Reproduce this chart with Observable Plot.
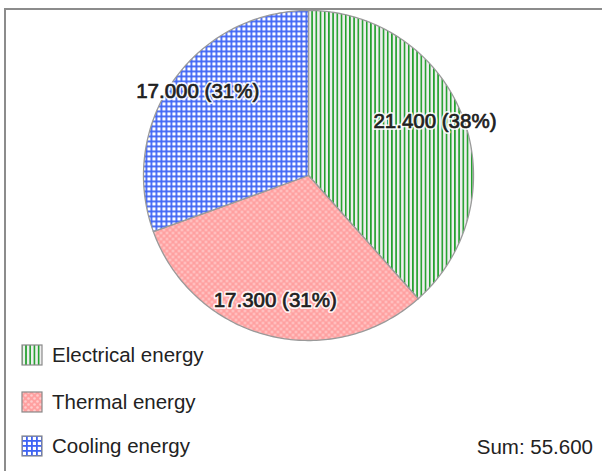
<!DOCTYPE html>
<html><head><meta charset="utf-8">
<script src="https://cdn.jsdelivr.net/npm/d3@7"></script>
<script src="https://cdn.jsdelivr.net/npm/@observablehq/plot@0.6"></script>
<style>
body{margin:0;background:#fff;font-family:"Liberation Sans",Arial,sans-serif;}
#wrap{position:relative;width:602px;height:471px;overflow:hidden;background:#fff}
#frame{position:absolute;left:4px;top:8px;width:640px;height:500px;border-top:2px solid #8c8c8c;border-left:2px solid #8c8c8c;}
#chart{position:absolute;left:0;top:0}
.leg{position:absolute;left:21px;display:flex;align-items:center;font-size:20.5px;color:#222;white-space:nowrap}
.leg svg{margin-right:9px;display:block}
#sum{position:absolute;right:9px;top:435px;font-size:20.5px;color:#222}
</style>
</head><body>
<div id="wrap"><div id="frame"></div><div id="chart"></div><div id="legend"></div><div id="sum"></div></div>
<script>
const categories = ["Electrical energy", "Thermal energy", "Cooling energy"];
const values = [21.4, 17.3, 17.0];
const labels = ["21.400 (38%)", "17.300 (31%)", "17.000 (31%)"];
const patternIds = ["pat-elec", "pat-therm", "pat-cool"];
const sumLabel = "Sum: 55.600";

const total = d3.sum(values);
let acc = 0;
const slices = values.map((v, i) => {
  const a0 = acc / total * 2 * Math.PI;
  acc += v;
  const a1 = acc / total * 2 * Math.PI;
  return {cat: categories[i], a0, a1, label: labels[i], pat: patternIds[i]};
});
function polygon(s) {
  const pts = [{x: 0, y: 0}];
  const n = Math.max(2, Math.ceil((s.a1 - s.a0) / (Math.PI / 180)));
  for (let k = 0; k <= n; k++) {
    const a = s.a0 + (s.a1 - s.a0) * k / n;
    pts.push({x: Math.sin(a), y: Math.cos(a)});
  }
  pts.push({x: 0, y: 0});
  return pts;
}
const labelPts = slices.map(s => {
  const m = (s.a0 + s.a1) / 2, k = 0.82;
  return {x: k * Math.sin(m), y: k * Math.cos(m), label: s.label};
});

const cx = 308, cy = 175, R = 165;
const font = "Liberation Sans, Arial, sans-serif";
const plot = Plot.plot({
  width: 602, height: 471,
  margin: 0,
  x: {domain: [-1, 1], range: [cx - R, cx + R], axis: null},
  y: {domain: [-1, 1], range: [cy + R, cy - R], axis: null},
  style: {background: "transparent", overflow: "visible"},
  marks: [
    ...slices.map(s => Plot.line(polygon(s), {x: "x", y: "y", fill: `url(#${s.pat})`, stroke: "#9a9a9a", strokeWidth: 1.3, strokeLinejoin: "round"})),
    Plot.text(labelPts, {x: "x", y: "y", dy: -6, text: "label", fontSize: 20.5, fontFamily: font, fill: "white", stroke: "white", strokeWidth: 4, strokeOpacity: 0.85, strokeLinejoin: "round"}),
    Plot.text(labelPts, {x: "x", y: "y", dy: -6, text: "label", fontSize: 20.5, fontFamily: font, fill: "#202020", stroke: "#202020", strokeWidth: 0.7})
  ]
});
const ns = "http://www.w3.org/2000/svg";
const defs = document.createElementNS(ns, "defs");
defs.innerHTML = `
<pattern id="pat-elec" patternUnits="userSpaceOnUse" width="4.2" height="4">
  <rect width="4.2" height="4" fill="#eeeeee"/>
  <rect x="0" width="1.6" height="4" fill="#1f9f2a"/>
</pattern>
<pattern id="pat-therm" patternUnits="userSpaceOnUse" width="6" height="6">
  <rect width="6" height="6" fill="#ffa0a0"/>
  <circle cx="1.5" cy="1.5" r="1.3" fill="#ffcccc"/>
  <circle cx="4.5" cy="4.5" r="1.3" fill="#ffcccc"/>
</pattern>
<pattern id="pat-cool" patternUnits="userSpaceOnUse" width="5" height="5">
  <rect width="5" height="5" fill="#ffffff"/>
  <rect x="0" y="0" width="1.8" height="5" fill="#3f64f4"/>
  <rect x="0" y="0" width="5" height="1.8" fill="#3f64f4"/>
</pattern>`;
plot.insertBefore(defs, plot.firstChild);
document.getElementById("chart").appendChild(plot);

const legend = document.getElementById("legend");
const rowTops = [343, 390, 434];
categories.forEach((c, i) => {
  const d = document.createElement("div");
  d.className = "leg";
  d.style.top = rowTops[i] + "px";
  d.innerHTML = `<svg width="22" height="22"><rect x="1" y="1" width="20" height="20" fill="url(#${patternIds[i]})" stroke="#8a8a8a" stroke-width="1.2"/></svg><span>${c}</span>`;
  legend.appendChild(d);
});
document.getElementById("sum").textContent = sumLabel;
</script>
</body></html>
